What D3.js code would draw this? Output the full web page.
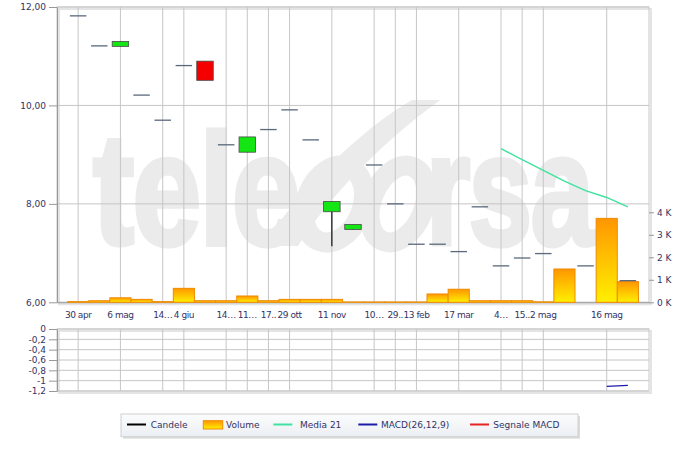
<!DOCTYPE html>
<html><head><meta charset="utf-8">
<script src="https://cdn.jsdelivr.net/npm/d3@7"></script>
<style>body{margin:0;background:#fff;} svg{display:block;font-family:"DejaVu Sans",sans-serif;}</style>
</head><body><svg id="c" width="700" height="451"></svg>
<script>
// ---------- data ----------
const tickLabels = ["30 apr","","6 mag","","14…","4 giu","","14…","11…","17..","29 ott","","11 nov","","10…","29..","13 feb","","17 mar","","4…","15..","2 mag","","","16 mag",""];
const openP  = [11.82,11.21,11.20,10.21,9.70,10.81,10.90,9.20,9.05,9.51,9.91,9.30,7.84,7.48,8.79,8.00,7.18,7.18,7.03,7.94,6.74,6.90,6.99,null,6.74,null,6.44];
const closeP = [11.82,11.21,11.30,10.21,9.70,10.81,10.51,9.20,9.36,9.51,9.91,9.30,8.05,7.58,8.79,8.00,7.18,7.18,7.03,7.94,6.74,6.90,6.99,null,6.74,null,6.44];
const highP  = [11.82,11.21,11.30,10.21,9.70,10.81,10.90,9.20,9.36,9.51,9.91,9.30,8.05,7.58,8.79,8.00,7.18,7.18,7.03,7.94,6.74,6.90,6.99,null,6.74,null,6.44];
const lowP   = [11.82,11.21,11.20,10.21,9.70,10.81,10.51,9.20,9.05,9.51,9.91,9.30,7.14,7.48,8.79,8.00,7.18,7.18,7.03,7.94,6.74,6.90,6.99,null,6.74,null,6.44];
const volume = [30,70,200,130,30,620,70,70,280,70,130,130,130,15,15,15,15,370,580,70,70,70,20,1480,0,3730,920];
const media21 = [null,null,null,null,null,null,null,null,null,null,null,null,null,null,null,null,null,null,null,null,9.12,8.90,8.68,8.46,8.27,8.13,7.94];
const macd    = [null,null,null,null,null,null,null,null,null,null,null,null,null,null,null,null,null,null,null,null,null,null,null,null,null,-1.11,-1.09];
const priceTicks = [6,8,10,12];
const volTicks = [0,1000,2000,3000,4000];
const macdTicks = [0,-0.2,-0.4,-0.6,-0.8,-1,-1.2];
const legendItems = [
  {label:"Candele", type:"line", color:"#000000"},
  {label:"Volume", type:"rect", color:"#ffaa00"},
  {label:"Media 21", type:"line", color:"#3ee3a0"},
  {label:"MACD(26,12,9)", type:"line", color:"#1c1ca8"},
  {label:"Segnale MACD", type:"line", color:"#e82222"}
];

// ---------- layout ----------
const L = 57, R = 649, T = 7, B = 302.3, MT = 329, MB = 391;
const txt = "#333366";
const svg = d3.select("#c");
const idx = d3.range(tickLabels.length);
const x = d3.scaleBand().domain(idx).range([L, R]).paddingInner(0).paddingOuter(0.5);
const bw = x.bandwidth();
const cx = i => x(i) + bw / 2;
const yP = d3.scaleLinear().domain([6, 12]).range([B, T]);
const yV = d3.scaleLinear().domain([0, 4000]).range([B, 212.3]);
const yM = d3.scaleLinear().domain([-1.2, 0]).range([MB, MT]);
const comma = f => d => d3.format(f)(d).replace(".", ",");

// defs
const defs = svg.append("defs");
const g1 = defs.append("linearGradient").attr("id","vol").attr("x1",0).attr("y1",0).attr("x2",0).attr("y2",1);
g1.append("stop").attr("offset","0%").attr("stop-color","#ff9600");
g1.append("stop").attr("offset","100%").attr("stop-color","#fff000");
const g2 = defs.append("linearGradient").attr("id","leg").attr("x1",0).attr("y1",0).attr("x2",0).attr("y2",1);
g2.append("stop").attr("offset","0%").attr("stop-color","#fbfcfd");
g2.append("stop").attr("offset","100%").attr("stop-color","#eceff3");

// watermark (logo, decorative)
const wmc = "#ebebeb";
const wm = svg.append("g").attr("fill",wmc).attr("stroke",wmc);
wm.append("text").attr("transform","translate(93,244) scale(0.78,1)").attr("font-family","Liberation Sans, Arial, sans-serif")
  .attr("font-weight","bold").attr("font-size",158).attr("stroke-width",5).attr("letter-spacing",-2).text("tele");
wm.append("text").attr("transform","translate(426,244) scale(0.72,1)").attr("font-family","Liberation Sans, Arial, sans-serif")
  .attr("font-weight","bold").attr("font-size",158).attr("stroke-width",5).attr("letter-spacing",-2).text("rsa");
wm.append("path").attr("stroke","none").attr("d","M262,246 C300,190 360,130 412,100 L440,100 C385,140 330,195 298,246 Z");
wm.append("ellipse").attr("fill","none").attr("stroke-width",20).attr("transform","translate(334,204) rotate(22)").attr("rx",28).attr("ry",40);
wm.append("ellipse").attr("fill","none").attr("stroke-width",20).attr("transform","translate(398,204) rotate(22)").attr("rx",26).attr("ry",40);

// panel frames with shadow
[[T,B],[MT,MB]].forEach(([t,b]) => {
  svg.append("rect").attr("x",L+2).attr("y",t+2).attr("width",R-L).attr("height",b-t)
    .attr("fill","none").attr("stroke","#e4e4e4").attr("stroke-width",2);
  svg.append("rect").attr("x",L).attr("y",t).attr("width",R-L).attr("height",b-t)
    .attr("fill","none").attr("stroke","#c8c8c8");
});

// grid
const grid = svg.append("g").attr("stroke","#c6c6c6").attr("stroke-width",1);
idx.filter(i => tickLabels[i] !== "").forEach(i => {
  grid.append("line").attr("x1",cx(i)).attr("x2",cx(i)).attr("y1",T).attr("y2",B);
  grid.append("line").attr("x1",cx(i)).attr("x2",cx(i)).attr("y1",MT).attr("y2",MB);
});
priceTicks.forEach(v => grid.append("line").attr("x1",L).attr("x2",R).attr("y1",yP(v)).attr("y2",yP(v)));
macdTicks.forEach(v => grid.append("line").attr("x1",L).attr("x2",R).attr("y1",yM(v)).attr("y2",yM(v)));

// axes
function styleAxis(g){
  g.selectAll("text").attr("fill",txt).attr("font-size",9).attr("font-family","DejaVu Sans, sans-serif");
  g.selectAll("line").attr("stroke","#999");
  g.select(".domain").attr("stroke","#999");
}
svg.append("g").attr("transform",`translate(${L},0)`)
  .call(d3.axisLeft(yP).tickValues(priceTicks).tickFormat(comma(".2f")).tickSize(8).tickPadding(3).tickSizeOuter(0))
  .call(styleAxis);
svg.append("g").attr("transform",`translate(${R},0)`)
  .call(d3.axisRight(yV).tickValues(volTicks).tickFormat(d => (d/1000) + " K").tickSize(5).tickPadding(3).tickSizeOuter(0))
  .call(styleAxis).call(g => g.select(".domain").remove());
svg.append("g").attr("transform",`translate(${L},0)`)
  .call(d3.axisLeft(yM).tickValues(macdTicks).tickFormat(d => String(d).replace(".", ",")).tickSize(8).tickPadding(3).tickSizeOuter(0))
  .call(styleAxis);
svg.append("g").attr("transform",`translate(0,${B})`)
  .call(d3.axisBottom(x).tickValues(idx.filter(i => tickLabels[i] !== "")).tickFormat(i => tickLabels[i]).tickSize(0).tickPadding(9).tickSizeOuter(0))
  .call(styleAxis)
  .call(g => g.selectAll("text").attr("letter-spacing", -0.45));

// volume bars
svg.append("g").selectAll("rect").data(idx.filter(i => volume[i] > 0)).join("rect")
  .attr("x", i => x(i)).attr("width", bw)
  .attr("y", i => yV(volume[i])).attr("height", i => yV(0) - yV(volume[i]))
  .attr("fill","url(#vol)").attr("stroke","#f08a00").attr("stroke-width",1);

// candles
const cg = svg.append("g");
idx.filter(i => openP[i] != null).forEach(i => {
  const o = openP[i], c = closeP[i], h = highP[i], l = lowP[i];
  const w = bw * 0.78;
  if (h !== l) cg.append("line").attr("x1",cx(i)).attr("x2",cx(i)).attr("y1",yP(h)).attr("y2",yP(l)).attr("stroke","#111").attr("stroke-width",1.2);
  if (o === c) {
    cg.append("line").attr("x1",cx(i)-w/2).attr("x2",cx(i)+w/2).attr("y1",yP(o)).attr("y2",yP(o))
      .attr("stroke","#5a687c").attr("stroke-width",1.3);
  } else {
    cg.append("rect").attr("x",cx(i)-w/2).attr("width",w)
      .attr("y",yP(Math.max(o,c))).attr("height",Math.abs(yP(o)-yP(c)))
      .attr("fill", c > o ? "#14e614" : "#f50000").attr("stroke","#4a4a4a").attr("stroke-width",0.8);
  }
});

// Media 21
svg.append("path").datum(idx.filter(i => media21[i] != null))
  .attr("d", d3.line().x(i => cx(i)).y(i => yP(media21[i])))
  .attr("fill","none").attr("stroke","#3ee3a0").attr("stroke-width",1.4);
// MACD
svg.append("path").datum(idx.filter(i => macd[i] != null))
  .attr("d", d3.line().x(i => cx(i)).y(i => yM(macd[i])))
  .attr("fill","none").attr("stroke","#1c1ca8").attr("stroke-width",1.3);

// legend
const lg = svg.append("g");
lg.append("rect").attr("x",123).attr("y",416).attr("width",457).attr("height",22.7).attr("fill","#dcdcdc");
lg.append("rect").attr("x",121).attr("y",414).attr("width",457).attr("height",22.7).attr("fill","url(#leg)").attr("stroke","#d0d0d0");
const lx = [127, 203.3, 273.3, 358.3, 470];
const tx = [150.7, 226, 300, 381, 493.3];
legendItems.forEach((d,k) => {
  if (d.type === "line") {
    lg.append("line").attr("x1",lx[k]).attr("x2",lx[k]+19).attr("y1",424.5).attr("y2",424.5).attr("stroke",d.color).attr("stroke-width",2);
  } else {
    lg.append("rect").attr("x",lx[k]).attr("y",420.7).attr("width",19.4).attr("height",8.3).attr("fill","url(#vol)").attr("stroke","#f08a00");
  }
  lg.append("text").attr("x",tx[k]).attr("y",427.8).attr("fill",txt).attr("font-size",9).text(d.label);
});
</script></body></html>
